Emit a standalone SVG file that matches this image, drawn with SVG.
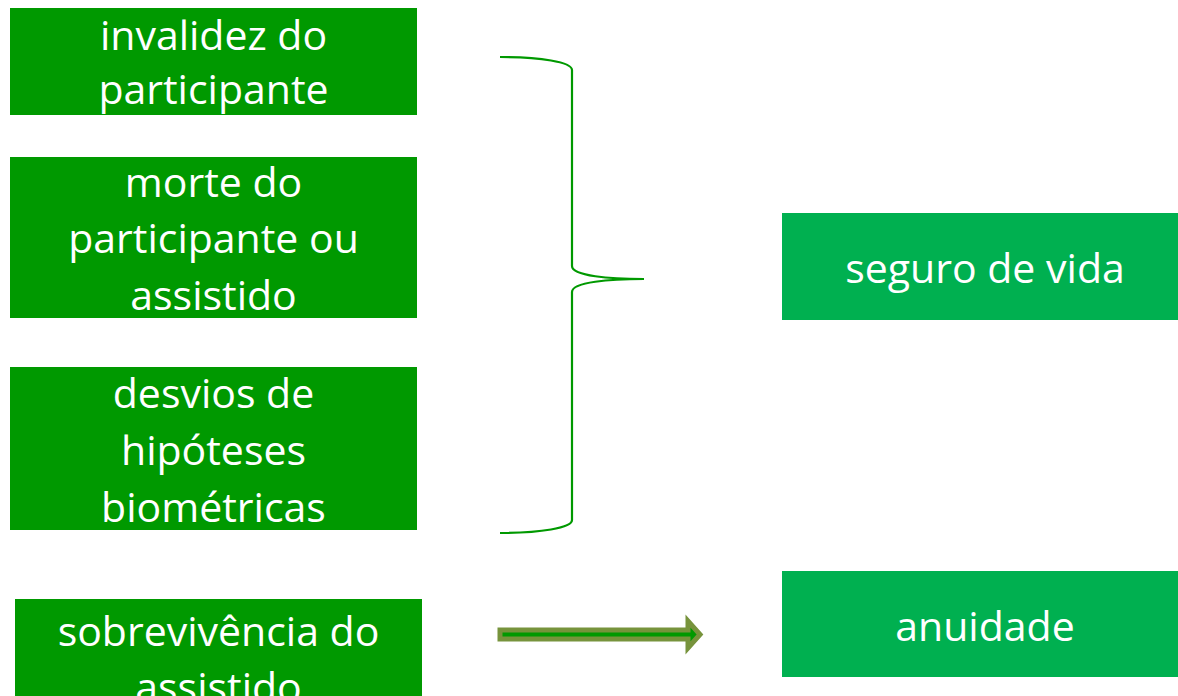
<svg xmlns="http://www.w3.org/2000/svg" width="1178" height="696" viewBox="0 0 1178 696">
<style>
.dk{fill:#009900}
.lt{fill:#00B050}
.t{fill:#ffffff;font-family:"Open Sans","Noto Sans",sans-serif;font-size:41px;text-anchor:middle}
.brace{fill:none;stroke:#009900;stroke-width:2.2}
</style>
<rect width="1178" height="696" fill="#ffffff"/>
<g id="n1">
<rect class="dk" x="10" y="8" width="407" height="107"/>
<text class="t" x="213.5" y="50">invalidez do</text>
<text class="t" x="213.5" y="104">participante</text>
</g>
<g id="n2">
<rect class="dk" x="10" y="157" width="407" height="161"/>
<text class="t" x="213.5" y="197">morte do</text>
<text class="t" x="213.5" y="253">participante ou</text>
<text class="t" x="213.5" y="310">assistido</text>
</g>
<g id="n3">
<rect class="dk" x="10" y="367" width="407" height="163"/>
<text class="t" x="213.5" y="408">desvios de</text>
<text class="t" x="213.5" y="465">hipóteses</text>
<text class="t" x="213.5" y="522">biométricas</text>
</g>
<g id="n4">
<rect class="dk" x="15" y="599" width="407" height="97"/>
<text class="t" x="218.5" y="646">sobrevivência do</text>
<text class="t" x="218.5" y="702">assistido</text>
</g>
<g id="n5">
<rect class="lt" x="782" y="213" width="396" height="107"/>
<text class="t" x="985" y="283">seguro de vida</text>
</g>
<g id="n6">
<rect class="lt" x="782" y="571" width="396" height="106"/>
<text class="t" x="985" y="641">anuidade</text>
</g>
<g id="connectors">
<path class="brace" d="M500,57 C540,57 572,62 572,70 L572,266 C572,276 610,279 644,279 C610,279 572,282 572,292 L572,520 C572,528 540,533 500,533"/>
<polygon points="500,630 688,630 688,621 700,634.5 688,648 688,639 500,639" fill="#009900" stroke="#77933C" stroke-width="5"/>
</g>
</svg>
